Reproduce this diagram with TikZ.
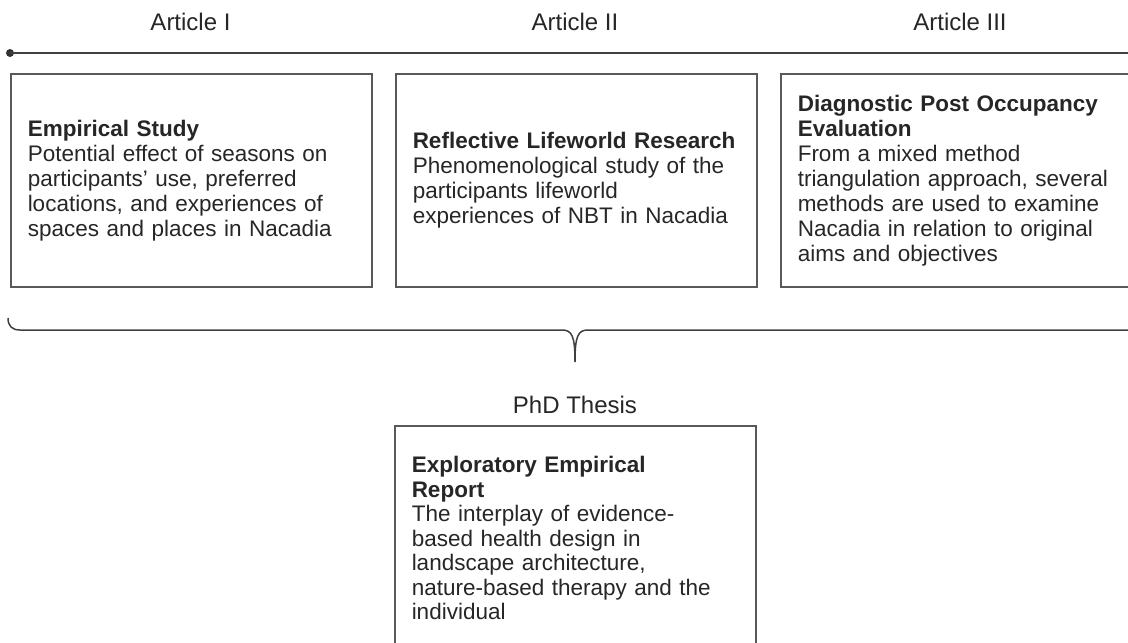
\documentclass[tikz,border=0pt]{standalone}
\usepackage{fontspec}
\setmainfont{Liberation Sans}
\begin{document}
\begin{tikzpicture} [x=1pt,y=-1pt,line width=1.5pt,
			every node/.style={text=black!85},
			head/.style={font=\fontsize{24}{28}\selectfont,inner sep=0pt},
			article/.style={draw=black!65,anchor=north west,minimum width=361pt,minimum height=213pt,
				text width=327pt,inner xsep=17pt,inner ysep=0pt,align=left,
				font=\fontsize{22.5}{25}\selectfont},
			thesis/.style={article,minimum height=225pt,font=\fontsize{22.5}{24.5}\selectfont}]

		\useasboundingbox (0,0) rectangle (1128,643);
		\clip (0,0) rectangle (1128,643);

		\node [head] (a1) at (190.5,22) {Article I};
		\node [head] (a2) at (575,22) {Article II};
		\node [head] (a3) at (960,22) {Article III};

		\fill [black!80] (10,53) circle (4pt);
		\draw [black!75,line width=1.8pt] (10,53) -- (1140,53);

		\node [article] (emp) at (10,73) {\textbf{Empirical Study}\\Potential effect of seasons on\\participants’ use, preferred\\locations, and experiences of\\spaces and places in Nacadia};
		\node [article] (rlr) at (395,73) {\textbf{Reflective Lifeworld Research}\\Phenomenological study of the\\participants lifeworld\\experiences of NBT in Nacadia};
		\node [article] (poe) at (780,73) {\textbf{Diagnostic Post Occupancy}\\\textbf{Evaluation}\\From a mixed method\\triangulation approach, several\\methods are used to examine\\Nacadia in relation to original\\aims and objectives};

		\draw [black!75] (8,318) .. controls (8,326) and (12,330) .. (20,330) -- (562,330)
			.. controls (572,330) and (575,336) .. (575,362)
			.. controls (575,336) and (578,330) .. (588,330) -- (1140,330);

		\node [head] (phd) at (575,405) {PhD Thesis};
		\node [thesis] (rep) at (394,425) {\textbf{Exploratory Empirical}\\\textbf{Report}\\The interplay of evidence-\\based health design in\\landscape architecture,\\nature-based therapy and the\\individual};

		\end{tikzpicture}
\end{document}
